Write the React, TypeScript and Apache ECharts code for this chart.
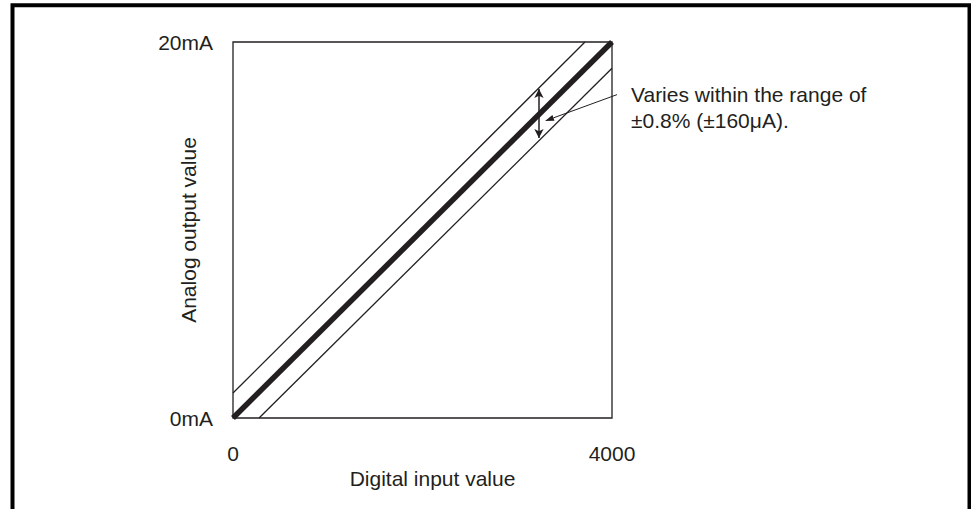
import React, { useEffect, useRef } from "react";
import * as echarts from "echarts";

// ---- data ----
const xTicks = [0, 4000];
const yTicks = [0, 20];
const yUnit = "mA";
const xName = "Digital input value";
const yName = "Analog output value";
const centerLine: number[][] = [[0, 0], [4000, 20]];
const upperLine: number[][] = [[0, 1.33], [3715, 20]];
const lowerLine: number[][] = [[275, 0], [4000, 18.6]];
const rangeArrow: number[][] = [[3229, 14.9], [3229, 17.5]];
const leaderLine: number[][] = [[4053, 17.2], [3293, 15.8]];
const noteLines = ["Varies within the range of", "±0.8% (±160μA)."];

const INK = "#231f20";

export default function App() {
  const ref = useRef<HTMLDivElement>(null);
  useEffect(() => {
    if (!ref.current) return;
    const chart = echarts.init(ref.current, undefined, { renderer: "svg" });
    const font = "Liberation Sans, Arial, sans-serif";
    chart.setOption({
      animation: false,
      backgroundColor: "#ffffff",
      grid: {
        left: 233,
        top: 42,
        right: 359,
        bottom: 91,
        show: true,
        borderColor: INK,
        borderWidth: 1.3,
      },
      xAxis: {
        type: "value",
        min: xTicks[0],
        max: xTicks[1],
        interval: xTicks[1] - xTicks[0],
        splitLine: { show: false },
        axisTick: { show: false },
        axisLine: { show: false },
        axisLabel: {
          margin: 25,
          fontSize: 21,
          color: INK,
          fontFamily: font,
          formatter: (v: number) => String(v),
        },
        name: xName,
        nameLocation: "middle",
        nameGap: 50,
        nameMoveOverlap: false,
        nameTextStyle: { fontSize: 21, color: INK, fontFamily: font, padding: [0, 0, 0, 20] },
      },
      yAxis: {
        type: "value",
        min: yTicks[0],
        max: yTicks[1],
        interval: yTicks[1] - yTicks[0],
        splitLine: { show: false },
        axisTick: { show: false },
        axisLine: { show: false },
        axisLabel: {
          margin: 20,
          fontSize: 21,
          color: INK,
          fontFamily: font,
          formatter: (v: number) => v + yUnit,
        },
        name: yName,
        nameLocation: "middle",
        nameGap: 34,
        nameMoveOverlap: false,
        nameTextStyle: { fontSize: 21, color: INK, fontFamily: font },
      },
      series: [
        {
          type: "line",
          data: upperLine,
          symbol: "none",
          lineStyle: { color: INK, width: 1.3 },
        },
        {
          type: "line",
          data: lowerLine,
          symbol: "none",
          lineStyle: { color: INK, width: 1.3 },
        },
        {
          type: "line",
          data: centerLine,
          symbol: "none",
          lineStyle: { color: INK, width: 5.5 },
          markLine: {
            silent: true,
            symbol: ["arrow", "arrow"],
            symbolSize: [7, 9],
            label: { show: false },
            lineStyle: { color: INK, width: 1.5, type: "solid" },
            data: [[{ coord: rangeArrow[0] }, { coord: rangeArrow[1] }]],
          },
        },
      ],
    });

    const p0 = chart.convertToPixel({ gridIndex: 0 }, leaderLine[0]) as number[];
    const p1 = chart.convertToPixel({ gridIndex: 0 }, leaderLine[1]) as number[];
    const dx = p1[0] - p0[0];
    const dy = p1[1] - p0[1];
    const len = Math.sqrt(dx * dx + dy * dy);
    const ux = dx / len;
    const uy = dy / len;
    const hl = 9;
    const hw = 3;
    const bx = p1[0] - ux * hl;
    const by = p1[1] - uy * hl;

    chart.setOption({
      graphic: [
        {
          type: "polyline",
          shape: { points: [[12.5, 520], [12.5, 5.3], [969.5, 5.3], [969.5, 520]] },
          style: { stroke: "#000", lineWidth: 4, fill: null },
          silent: true,
        },
        {
          type: "line",
          shape: { x1: p0[0], y1: p0[1], x2: bx, y2: by },
          style: { stroke: INK, lineWidth: 1 },
          silent: true,
        },
        {
          type: "polygon",
          shape: {
            points: [
              [p1[0], p1[1]],
              [bx - uy * hw, by + ux * hw],
              [bx + uy * hw, by - ux * hw],
            ],
          },
          style: { fill: INK },
          silent: true,
        },
        {
          type: "text",
          x: 631,
          y: 81,
          style: {
            text: noteLines.join("\n"),
            font: "21px " + font,
            lineHeight: 26,
            fill: INK,
            textAlign: "left",
            textVerticalAlign: "top",
          },
          silent: true,
        },
      ],
    });

    return () => chart.dispose();
  }, []);
  return (
    <div
      ref={ref}
      style={{ position: "absolute", left: 0, top: 0, width: 971, height: 509 }}
    />
  );
}
